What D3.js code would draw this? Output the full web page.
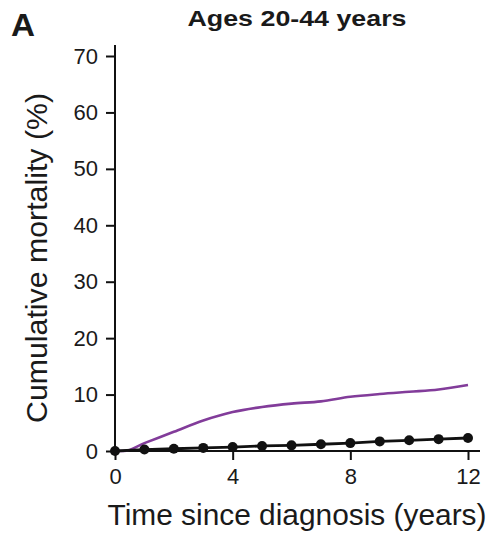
<!DOCTYPE html>
<html>
<head>
<meta charset="utf-8">
<script src="https://cdn.jsdelivr.net/npm/d3@7"></script>
<style>
  html, body { margin: 0; padding: 0; background: #fff; }
  svg { display: block; }
  text { font-family: "Liberation Sans", Arial, Helvetica, sans-serif; fill: #1a1a1a; }
</style>
</head>
<body>
<svg id="chart" width="497" height="538"></svg>
<script>
// ---- data ----
const panelLabel = "A";
const title = "Ages 20-44 years";
const xLabel = "Time since diagnosis (years)";
const yLabel = "Cumulative mortality (%)";
const xTicks = [0, 4, 8, 12];
const yTicks = [0, 10, 20, 30, 40, 50, 60, 70];

// purple curve (smooth)
const purpleTime  = [0, 0.3, 1, 2, 3, 4, 5, 6, 7, 8, 9, 10, 11, 12];
const purpleValue = [0, 0, 1.4, 3.4, 5.4, 6.9, 7.8, 8.4, 8.8, 9.6, 10.1, 10.5, 10.9, 11.7];

// black line with markers
const blackTime  = [0, 1, 2, 3, 4, 5, 6, 7, 8, 9, 10, 11, 12];
const blackValue = [0, 0.25, 0.4, 0.55, 0.7, 0.9, 1.0, 1.2, 1.4, 1.7, 1.9, 2.1, 2.3];

// ---- layout ----
const svg = d3.select("#chart");
const x = d3.scaleLinear().domain([0, 12]).range([115, 468]);
const y = d3.scaleLinear().domain([0, 70]).range([451, 56]);

// axes
const yAxis = d3.axisLeft(y).tickValues(yTicks).tickSize(9).tickPadding(8);
const gy = svg.append("g").attr("transform", `translate(${x(0)},0)`).call(yAxis);
gy.select(".domain").remove();
gy.selectAll(".tick line").attr("stroke", "#111").attr("stroke-width", 2);
gy.selectAll(".tick text").style("font-size", "22px").attr("fill", "#222");

const xAxis = d3.axisBottom(x).tickValues(xTicks).tickSize(9).tickPadding(8);
const gx = svg.append("g").attr("transform", `translate(0,${y(0)})`).call(xAxis);
gx.select(".domain").remove();
gx.selectAll(".tick line").attr("stroke", "#111").attr("stroke-width", 2);
gx.selectAll(".tick text").style("font-size", "22px").attr("fill", "#222");

// axis lines (extend beyond last ticks)
svg.append("line")
  .attr("x1", x(0)).attr("x2", x(0))
  .attr("y1", y(0)).attr("y2", y(70) - 11)
  .attr("stroke", "#111").attr("stroke-width", 2);
svg.append("line")
  .attr("x1", x(0)).attr("x2", x(12) + 12)
  .attr("y1", y(0)).attr("y2", y(0))
  .attr("stroke", "#111").attr("stroke-width", 2);

// purple curve
const purpleData = purpleTime.map((t, i) => [t, purpleValue[i]]);
svg.append("path")
  .datum(purpleData)
  .attr("fill", "none")
  .attr("stroke", "#823c9a")
  .attr("stroke-width", 2.6)
  .attr("d", d3.line().x(d => x(d[0])).y(d => y(d[1])).curve(d3.curveMonotoneX));

// black line with markers
const blackData = blackTime.map((t, i) => [t, blackValue[i]]);
svg.append("path")
  .datum(blackData)
  .attr("fill", "none")
  .attr("stroke", "#111")
  .attr("stroke-width", 2.8)
  .attr("d", d3.line().x(d => x(d[0])).y(d => y(d[1])));
svg.append("g").selectAll("circle")
  .data(blackData)
  .join("circle")
  .attr("cx", d => x(d[0]))
  .attr("cy", d => y(d[1]))
  .attr("r", 5)
  .attr("fill", "#111");

// texts
svg.append("text")
  .attr("x", 11).attr("y", 36)
  .style("font-size", "31px").style("font-weight", "bold")
  .attr("fill", "#111")
  .attr("textLength", 24).attr("lengthAdjust", "spacingAndGlyphs")
  .text(panelLabel);

svg.append("text")
  .attr("x", 297).attr("y", 26)
  .attr("text-anchor", "middle")
  .style("font-size", "22px").style("font-weight", "bold")
  .attr("textLength", 219).attr("lengthAdjust", "spacingAndGlyphs")
  .text(title);

svg.append("text")
  .attr("x", 297).attr("y", 525)
  .attr("text-anchor", "middle")
  .style("font-size", "29px")
  .attr("textLength", 379).attr("lengthAdjust", "spacingAndGlyphs")
  .attr("fill", "#222")
  .text(xLabel);

svg.append("text")
  .attr("transform", "translate(47,258) rotate(-90)")
  .attr("text-anchor", "middle")
  .style("font-size", "29px")
  .attr("textLength", 330).attr("lengthAdjust", "spacingAndGlyphs")
  .attr("fill", "#222")
  .text(yLabel);
</script>
</body>
</html>
